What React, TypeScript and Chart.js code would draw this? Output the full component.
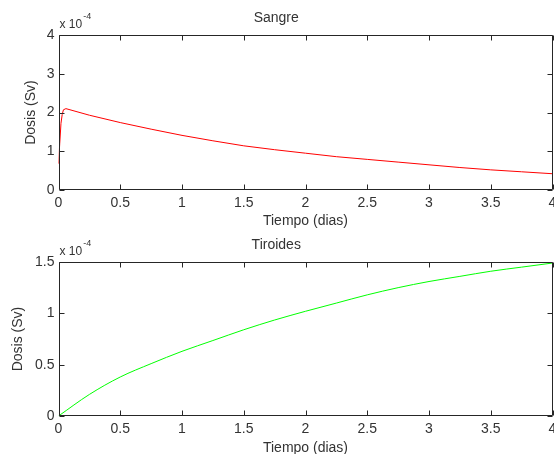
import { useEffect, useRef } from 'react';
import { Chart, registerables } from 'chart.js';

Chart.register(...registerables);

// Sangre (blood) dose, units of 1e-4 Sv
const sangreDias = [0, 0.01, 0.02, 0.03, 0.04, 0.06, 0.25, 0.5, 0.75, 1, 1.25, 1.5, 1.75, 2, 2.25, 2.5, 2.75, 3, 3.25, 3.5, 3.75, 4];
const sangreDosis = [0.68, 1.2, 1.72, 1.95, 2.07, 2.1, 1.93, 1.74, 1.57, 1.41, 1.27, 1.14, 1.04, 0.95, 0.86, 0.79, 0.72, 0.65, 0.58, 0.52, 0.47, 0.42];

// Tiroides (thyroid) dose, units of 1e-4 Sv
const tiroidesDias = [0, 0.25, 0.5, 0.75, 1, 1.25, 1.5, 1.75, 2, 2.25, 2.5, 2.75, 3, 3.25, 3.5, 3.75, 4];
const tiroidesDosis = [0, 0.21, 0.38, 0.51, 0.63, 0.735, 0.84, 0.935, 1.02, 1.1, 1.18, 1.25, 1.31, 1.36, 1.41, 1.45, 1.49];

const FONT = '"Liberation Sans", Arial, Helvetica, sans-serif';
const TEXT = '#333333';
const AXIS = '#262626';

const fmt = (v: any) => String(Number(v));

const matlabBox = {
  id: 'matlabBox',
  afterDraw(chart: any, _args: any, opts: any) {
    const { ctx, chartArea } = chart;
    const xs = chart.scales.x;
    const ys = chart.scales.y;
    const L = Math.round(chartArea.left) + 0.5;
    const R = Math.round(chartArea.right) - 0.5;
    const T = Math.round(chartArea.top) + 0.5;
    const B = Math.round(chartArea.bottom) - 0.5;
    const len = 5;
    ctx.save();
    ctx.strokeStyle = AXIS;
    ctx.lineWidth = 1;
    ctx.beginPath();
    ctx.rect(L, T, R - L, B - T);
    xs.ticks.forEach((t: any) => {
      const px = Math.round(xs.getPixelForValue(t.value)) + 0.5;
      ctx.moveTo(px, B);
      ctx.lineTo(px, B - len);
      ctx.moveTo(px, T);
      ctx.lineTo(px, T + len);
    });
    ys.ticks.forEach((t: any) => {
      const py = Math.round(ys.getPixelForValue(t.value)) + 0.5;
      ctx.moveTo(L, py);
      ctx.lineTo(L + len, py);
      ctx.moveTo(R, py);
      ctx.lineTo(R - len, py);
    });
    ctx.stroke();
    // exponent label
    ctx.fillStyle = TEXT;
    ctx.textAlign = 'left';
    ctx.textBaseline = 'alphabetic';
    ctx.font = `12px ${FONT}`;
    const base = 'x 10';
    const bx = chartArea.left + 1;
    const by = chartArea.top - 7;
    ctx.fillText(base, bx, by);
    const w = ctx.measureText(base).width;
    ctx.font = `9px ${FONT}`;
    ctx.fillText(opts.exp || '-4', bx + w + 1, by - 9);
    ctx.restore();
  },
};

function makeConfig(title: string, xs: number[], ys: number[], color: string, smooth: boolean, yMax: number, yStep: number, yTitlePad: number, xAxisH: number, xTitlePad: number) {
  return {
    type: 'line' as const,
    data: {
      datasets: [
        {
          data: xs.map((x, i) => ({ x, y: ys[i] })),
          borderColor: color,
          borderWidth: 1,
          pointRadius: 0,
          tension: 0,
          cubicInterpolationMode: smooth ? ('monotone' as const) : ('default' as const),
          fill: false,
        },
      ],
    },
    options: {
      animation: false,
      responsive: false,
      maintainAspectRatio: false,
      layout: { padding: { top: 0, left: 0, right: 1.5, bottom: 0 } },
      plugins: {
        legend: { display: false },
        tooltip: { enabled: false },
        title: {
          display: true,
          text: title,
          color: TEXT,
          font: { family: FONT, size: 14, weight: 'normal' as const },
          padding: { top: 10, bottom: 8.2 },
        },
        matlabBox: { exp: '-4' },
      },
      scales: {
        x: {
          type: 'linear' as const,
          min: 0,
          max: 4,
          border: { display: false },
          grid: { display: false, drawTicks: false },
          ticks: {
            stepSize: 0.5,
            padding: 5,
            color: TEXT,
            maxRotation: 0,
            autoSkip: false,
            callback: fmt,
            font: { family: FONT, size: 14 },
          },
          title: {
            display: true,
            text: 'Tiempo (dias)',
            color: TEXT,
            font: { family: FONT, size: 14 },
            padding: { top: 0, bottom: xTitlePad },
          },
          afterFit(scale: any) {
            scale.height = xAxisH;
            scale.paddingLeft = 0;
            scale.paddingRight = 0;
          },
        },
        y: {
          type: 'linear' as const,
          min: 0,
          max: yMax,
          border: { display: false },
          grid: { display: false, drawTicks: false },
          ticks: {
            stepSize: yStep,
            padding: 4,
            color: TEXT,
            callback: fmt,
            font: { family: FONT, size: 14 },
          },
          title: {
            display: true,
            text: 'Dosis (Sv)',
            color: TEXT,
            font: { family: FONT, size: 14 },
            padding: { top: yTitlePad, bottom: 0 },
          },
          afterFit(scale: any) {
            scale.width = 58.5;
            scale.paddingTop = 0;
            scale.paddingBottom = 0;
          },
        },
      },
    },
    plugins: [matlabBox],
  };
}

export default function App() {
  const topRef = useRef<HTMLCanvasElement>(null);
  const botRef = useRef<HTMLCanvasElement>(null);

  useEffect(() => {
    const c1 = new Chart(topRef.current as HTMLCanvasElement, makeConfig('Sangre', sangreDias, sangreDosis, '#ff0000', false, 4, 1, 22.6, 46, 6.6) as any);
    const c2 = new Chart(botRef.current as HTMLCanvasElement, makeConfig('Tiroides', tiroidesDias, tiroidesDosis, '#00ff00', true, 1.5, 0.5, 10, 47, 6.1) as any);
    return () => {
      c1.destroy();
      c2.destroy();
    };
  }, []);

  return (
    <div style={{ position: 'fixed', left: 0, top: 0, width: 554, height: 454, overflow: 'hidden', background: '#fff' }}>
      <canvas ref={topRef} width={554} height={236} style={{ position: 'absolute', left: 0, top: 0, width: 554, height: 236 }} />
      <canvas ref={botRef} width={554} height={236} style={{ position: 'absolute', left: 0, top: 227, width: 554, height: 236 }} />
    </div>
  );
}
